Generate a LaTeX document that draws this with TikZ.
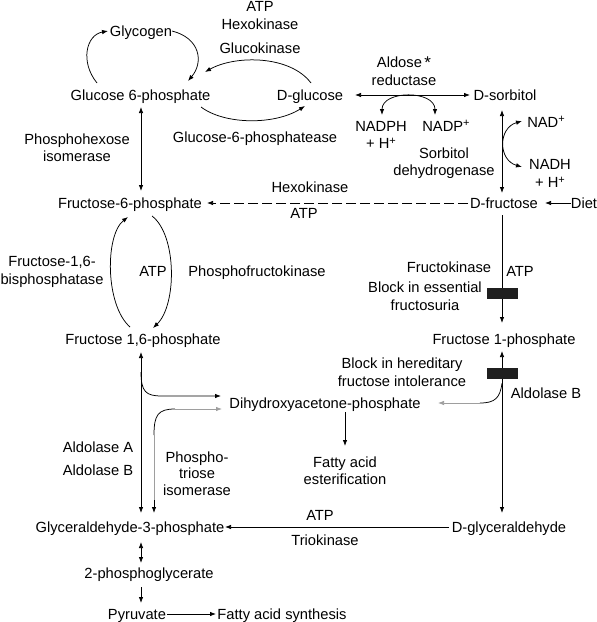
\documentclass[tikz,border=0pt]{standalone}
\usepackage{fontspec}
\setmainfont{Liberation Sans}
\usetikzlibrary{arrows.meta,calc}
\newcommand{\plussup}{\raisebox{4.2pt}{\fontsize{11}{11}\selectfont +}}
\begin{document}
\begin{tikzpicture}[x=1pt,y=-1pt,
  every node/.style={inner sep=1pt,align=center,font=\fontsize{14.7}{17.5}\selectfont},
  nd/.style={anchor=base},
  ln/.style={line width=0.75pt},
  arr/.style={ln,-{Latex[length=6pt,width=4.5pt]}},
  darr/.style={ln,{Latex[length=6pt,width=4.5pt]}-{Latex[length=6pt,width=4.5pt]}},
  gr/.style={draw=black!38},
  blockbar/.style={fill=black!88,draw=none,minimum width=31pt,minimum height=11pt,inner sep=0pt}]
\useasboundingbox (0,0) rectangle (597,622);
% metabolites
\node[nd] (glycogen) at (141,36) {Glycogen};
\node[nd] (g6p) at (140.5,100) {Glucose 6-phosphate};
\node[nd] (dglc) at (310,100) {D-glucose};
\node[nd] (dsorb) at (505,100) {D-sorbitol};
\node[nd] (f6p) at (130,208) {Fructose-6-phosphate};
\node[nd] (dfru) at (504,208) {D-fructose};
\node[nd] (diet) at (584,208) {Diet};
\node[nd] (f16p) at (143,344) {Fructose 1,6-phosphate};
\node[nd] (f1p) at (504,344) {Fructose 1-phosphate};
\node[nd] (dhap) at (325,408) {Dihydroxyacetone-phosphate};
\node (fae) at (345,470.5) {Fatty acid\\esterification};
\node[nd] (g3p) at (130,532) {Glyceraldehyde-3-phosphate};
\node[nd] (dglyc) at (509,532) {D-glyceraldehyde};
\node[nd] (pg2) at (149,578) {2-phosphoglycerate};
\node[nd] (pyr) at (137,619) {Pyruvate};
\node[nd] (fas) at (282,619) {Fatty acid synthesis};
% enzyme / cofactor labels
\node[nd] (atp1) at (260,11.5) {ATP};
\node[nd] (hexo1) at (260,29.5) {Hexokinase};
\node[nd] (gluco) at (260,53.5) {Glucokinase};
\node[nd] (g6pase) at (255,142) {Glucose-6-phosphatease};
\node (aldred) at (404,71) {Aldose\,\raisebox{-0.5pt}{\fontsize{17}{17}\selectfont *}\\reductase};
\node (nadph) at (381,135) {NADPH\\+ H\plussup};
\node[nd] (nadp) at (446,131) {NADP\plussup};
\node (sdh) at (444,163) {Sorbitol\\dehydrogenase};
\node[nd] (nad) at (546,127) {NAD\plussup};
\node (nadh) at (550,173.5) {NADH\\+ H\plussup};
\node (phi) at (77,147.5) {Phosphohexose\\isomerase};
\node[nd] (hexo2) at (310,192) {Hexokinase};
\node[nd] (atp2) at (304,218) {ATP};
\node (fbpase) at (52,272) {Fructose-1,6-\\bisphosphatase};
\node[nd] (atp3) at (153,276) {ATP};
\node[nd] (pfk) at (257,276) {Phosphofructokinase};
\node[nd] (fk) at (449,272) {Fructokinase};
\node[nd] (atp4) at (520,276) {ATP};
\node (blk1) at (425,296) {Block in essential\\fructosuria};
\node (blk2) at (402,372) {Block in hereditary\\fructose intolerance};
\node[nd] (aldb) at (546,398) {Aldolase B};
\node[nd] (alda) at (98,452) {Aldolase A};
\node[nd] (aldb2) at (98,475) {Aldolase B};
\node[font=\fontsize{14.7}{16.5}\selectfont] (tpi) at (197,473.5) {Phospho-\\triose\\isomerase};
\node[nd] (atp5) at (320,520) {ATP};
\node[nd] (trio) at (325,545) {Triokinase};
% connectors
\draw[darr] ($(g6p.base)+(0.5,7)$) -- ($(f6p.base)+(11,-17)$);
\draw[arr] ($(g6p.base)+(-43.5,-17)$) .. controls (80,62) and (86,35) .. ($(glycogen.base)+(-33,-5)$);
\draw[arr] ($(glycogen.base)+(31,-5)$) .. controls (200,38) and (204,62) .. ($(g6p.base)+(47.5,-19)$);
\draw[arr] ($(dglc.base)+(1,-17)$) .. controls (290,55) and (235,55) .. ($(g6p.base)+(64.5,-28)$);
\draw[arr] ($(g6p.base)+(60.5,7)$) .. controls (225,125) and (275,125) .. ($(dglc.base)+(-5,6)$);
\draw[darr] ($(dglc.base)+(45,-5)$) -- ($(dsorb.base)+(-35,-5)$);
\draw[darr] ($(nadph)+(1,-20)$) .. controls +(0,-25) and +(0,-25) .. ($(nadp.base)+(-11,-16)$);
\draw[darr] ($(dsorb.base)+(-3,10)$) -- ($(dfru.base)+(-2,-15)$);
\draw[darr] ($(nad.base)+(-24,-6)$) .. controls (498,128) and (498,160) .. ($(nadh)+(-28,-6.5)$);
\draw[arr,dash pattern=on 10pt off 4pt] ($(dfru.base)+(-36,-5)$) -- ($(f6p.base)+(77,-5)$);
\draw[arr] ($(diet.base)+(-13,-5)$) -- ($(dfru.base)+(41,-5)$);
\draw[arr] ($(dfru.base)+(-2,7)$) -- ($(f1p.base)+(-2,-21)$);
\draw[darr] ($(f1p.base)+(-2,7)$) -- ($(dglyc.base)+(-7,-19)$);
\node[blockbar] (bar1) at (502.5,293.5) {};
\node[blockbar] (bar2) at (502.5,373.5) {};
\draw[ln] ($(bar2.south)+(-0.5,4)$) .. controls (500,398) and (495,403) .. (480,403) coordinate (dh1);
\draw[arr,gr] (dh1) -- ($(dhap.base)+(113,-5)$);
\draw[arr] ($(dhap.base)+(20,4)$) -- ($(fae)+(0,-24.5)$);
\draw[darr] ($(f16p.base)+(-2,8)$) -- ($(g3p.base)+(11,-19)$);
\draw[arr] ($(f16p.base)+(-2,28)$) .. controls (141,392) and (146,396) .. (162,396) -- ($(dhap.base)+(-104,-12)$);
\draw[ln] (154,435) coordinate (tp1) .. controls (154,415) and (158,409) .. (175,409) coordinate (tp2);
\draw[arr,gr] (tp2) -- ($(dhap.base)+(-103,1)$);
\draw[ln,gr] (tp1) -- (154,500) coordinate (tp3);
\draw[arr] (tp3) -- ($(g3p.base)+(24,-19)$);
\draw[arr] ($(dglyc.base)+(-60,-5)$) -- ($(g3p.base)+(95,-5)$);
\draw[darr] ($(g3p.base)+(11,10)$) -- ($(pg2.base)+(-8,-15)$);
\draw[arr] ($(pg2.base)+(-8,9)$) -- ($(pyr.base)+(4,-16)$);
\draw[arr] ($(pyr.base)+(30,-5)$) -- ($(fas.base)+(-66,-5)$);
\draw[arr] ($(f16p.base)+(-13,-17)$) .. controls (105,305) and (105,235) .. ($(f6p.base)+(-2,9)$);
\draw[arr] ($(f6p.base)+(22,8)$) .. controls (177,235) and (177,305) .. ($(f16p.base)+(10,-16)$);
\end{tikzpicture}
\end{document}
